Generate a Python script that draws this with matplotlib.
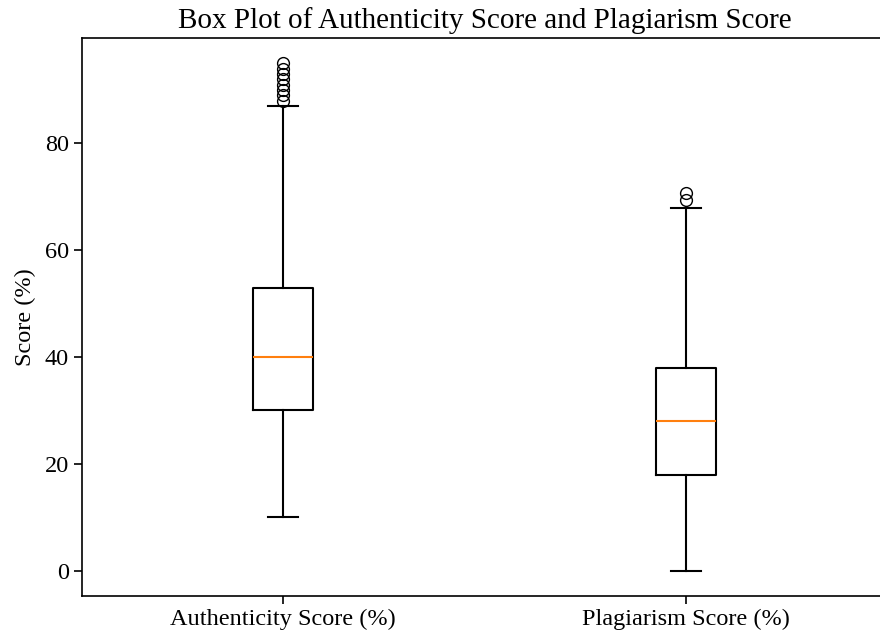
import matplotlib
matplotlib.use("Agg")
import matplotlib.pyplot as plt

plt.rcParams['font.family'] = ['Liberation Serif', 'DejaVu Serif']

categories = ["Authenticity Score (%)", "Plagiarism Score (%)"]
whislo = [10, 0]
q1 = [30, 18]
med = [40, 28]
q3 = [53, 38]
whishi = [87, 68]
fliers = [[88, 89, 90, 91, 92, 93, 94, 95], [69.5, 70.7]]

stats = []
for i, c in enumerate(categories):
    stats.append(dict(label=c, whislo=whislo[i], q1=q1[i], med=med[i],
                      q3=q3[i], whishi=whishi[i], fliers=fliers[i]))

fig = plt.figure(figsize=(8.8, 6.34), dpi=100)
ax = fig.add_axes([82/880, 1-596/634, 805/880, (596-38)/634])
ax.bxp(stats, widths=0.15,
       flierprops=dict(marker='o', markerfacecolor='none', markeredgecolor='black', markersize=8.5),
       boxprops=dict(linewidth=1.5), whiskerprops=dict(linewidth=1.5),
       capprops=dict(linewidth=1.5), medianprops=dict(color='#ff7f0e', linewidth=1.5))
ax.set_ylim(-4.75, 99.75)
ax.set_title("Box Plot of Authenticity Score and Plagiarism Score", fontsize=21, pad=7)
ax.set_ylabel("Score (%)", fontsize=17.5, labelpad=6)
ax.tick_params(labelsize=17.5, length=6, width=1.2)
for s in ax.spines.values():
    s.set_linewidth(1.2)
fig.savefig("out.png", dpi=100)
